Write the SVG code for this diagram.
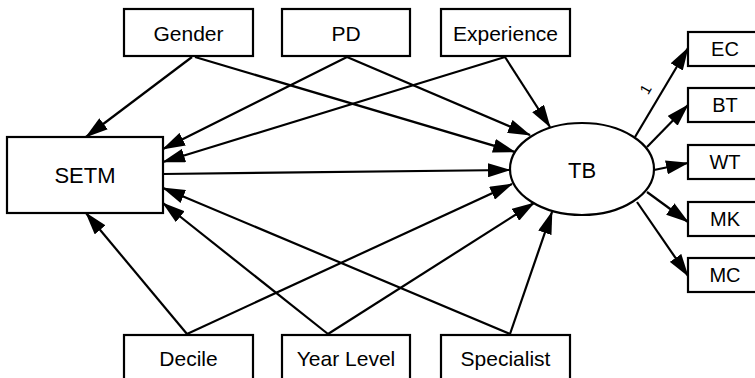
<svg xmlns="http://www.w3.org/2000/svg" width="755" height="378" viewBox="0 0 755 378">
<style>
.box{fill:#fff;stroke:#000;stroke-width:2.2}
.t{font-family:"Liberation Sans",Arial,sans-serif;font-size:21px;fill:#000;text-anchor:middle}
.c line{stroke:#000;stroke-width:2.2;marker-end:url(#ah)}
</style>
<defs>
<marker id="ah" markerUnits="userSpaceOnUse" markerWidth="23" markerHeight="14" viewBox="0 0 23 14" refX="22" refY="7" orient="auto">
<path d="M0,0 L23,7 L0,14 z" fill="#000"/>
</marker>
</defs>
<rect width="755" height="378" fill="#fff"/>
<g class="c" id="connectors">
<line x1="192" y1="57" x2="86" y2="137"/>
<line x1="195" y1="57" x2="515" y2="152"/>
<line x1="347" y1="57" x2="163" y2="149"/>
<line x1="347" y1="57" x2="530" y2="135"/>
<line x1="505" y1="57" x2="163" y2="162"/>
<line x1="505" y1="57" x2="550" y2="127"/>
<line x1="163" y1="174" x2="510" y2="170"/>
<line x1="187" y1="334" x2="86" y2="213"/>
<line x1="187" y1="334" x2="512" y2="184"/>
<line x1="328" y1="334" x2="163" y2="203"/>
<line x1="328" y1="334" x2="534" y2="203"/>
<line x1="510" y1="334" x2="163" y2="188"/>
<line x1="510" y1="334" x2="552" y2="212"/>
<line x1="635" y1="137" x2="688" y2="48"/>
<line x1="647" y1="147" x2="688" y2="105"/>
<line x1="654" y1="170" x2="688" y2="163"/>
<line x1="647" y1="192" x2="688" y2="222"/>
<line x1="637" y1="202" x2="688" y2="276"/>
</g>
<text x="650" y="92" transform="rotate(-60 650 92)" style="font-family:'Liberation Sans',Arial,sans-serif;font-size:15px" text-anchor="middle">1</text>
<g id="Gender"><rect class="box" x="124" y="9" width="129" height="47"/><text class="t" x="188.5" y="41">Gender</text></g>
<g id="PD"><rect class="box" x="282" y="9" width="128" height="47"/><text class="t" x="346" y="41">PD</text></g>
<g id="Experience"><rect class="box" x="441" y="9" width="129" height="47"/><text class="t" x="505.5" y="41">Experience</text></g>
<g id="SETM"><rect class="box" x="7" y="137" width="156" height="76"/><text class="t" x="85" y="183" style="font-size:22px">SETM</text></g>
<g id="TB"><ellipse cx="582" cy="169" rx="72" ry="46" fill="#fff" stroke="#000" stroke-width="2.2"/><text class="t" x="582" y="178" style="font-size:22px">TB</text></g>
<g id="EC"><rect class="box" x="688" y="32" width="76" height="34"/><text class="t" x="725" y="56" style="font-size:20px">EC</text></g>
<g id="BT"><rect class="box" x="688" y="88" width="76" height="34"/><text class="t" x="725" y="112" style="font-size:20px">BT</text></g>
<g id="WT"><rect class="box" x="688" y="145" width="76" height="34"/><text class="t" x="725" y="169" style="font-size:20px">WT</text></g>
<g id="MK"><rect class="box" x="688" y="202" width="76" height="34"/><text class="t" x="725" y="226" style="font-size:20px">MK</text></g>
<g id="MC"><rect class="box" x="688" y="258" width="76" height="34"/><text class="t" x="725" y="282" style="font-size:20px">MC</text></g>
<g id="Decile"><rect class="box" x="124" y="335" width="129" height="47"/><text class="t" x="188.5" y="366">Decile</text></g>
<g id="YearLevel"><rect class="box" x="282" y="335" width="128" height="47"/><text class="t" x="346" y="366">Year Level</text></g>
<g id="Specialist"><rect class="box" x="441" y="335" width="129" height="47"/><text class="t" x="505.5" y="366">Specialist</text></g>
</svg>
